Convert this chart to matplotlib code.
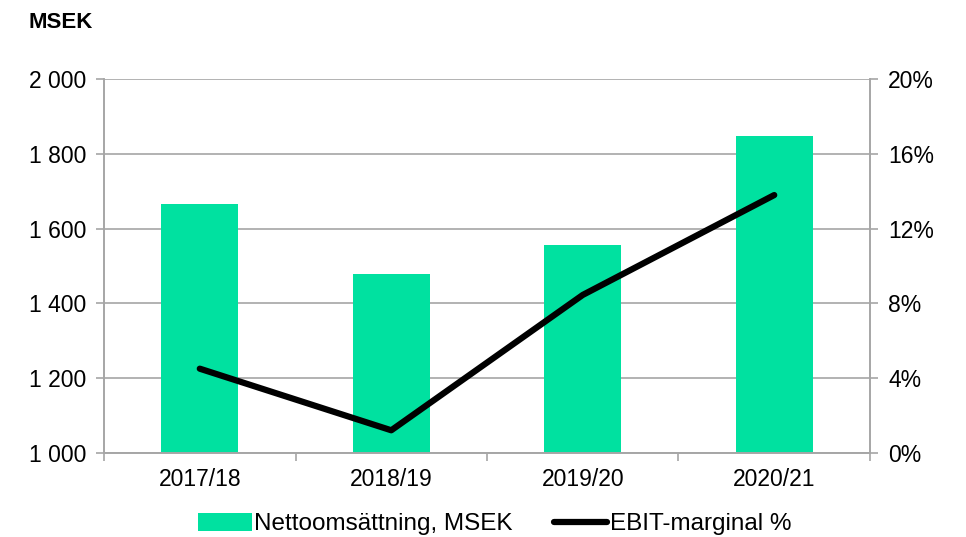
import matplotlib.pyplot as plt
import numpy as np
from matplotlib.ticker import FuncFormatter

plt.rcParams['font.family'] = ['Liberation Sans', 'DejaVu Sans']

years = ['2017/18', '2018/19', '2019/20', '2020/21']
net_sales = [1665, 1478, 1556, 1849]
ebit_margin = [4.5, 1.2, 8.45, 13.8]

bar_color = '#00E1A0'
grid_color = '#A6A6A6'

fig = plt.figure(figsize=(9.66, 5.37), dpi=100)
ax = fig.add_axes([0.1077, 0.157, 0.7929, 0.6953])
ax2 = ax.twinx()

x = np.arange(len(years))
ax.bar(x, net_sales, width=0.4, color=bar_color, zorder=2,
       label='Nettoomsättning, MSEK')
ax.set_ylim(1000, 2000)
ax.set_xlim(-0.5, len(years) - 0.5)
ax.set_yticks(range(1000, 2001, 200))
ax.yaxis.set_major_formatter(FuncFormatter(lambda v, p: f'{int(v):,}'.replace(',', ' ')))
ax.grid(axis='y', color=grid_color, linewidth=1.2, zorder=0)
ax.set_axisbelow(True)

ax.set_xticks(x)
ax.set_xticklabels(years)
ax.set_xticks(np.arange(-0.5, len(years)), minor=True)
ax.tick_params(axis='x', which='major', length=0, labelsize=16.5, pad=11)
ax.tick_params(axis='x', which='minor', length=6, color=grid_color, width=1.2)
ax.tick_params(axis='y', length=6, color=grid_color, width=1.2, labelsize=16.5, pad=7)

ax2.plot(x, ebit_margin, color='black', linewidth=4.5, solid_capstyle='round',
         solid_joinstyle='round', zorder=3, label='EBIT-marginal %')
ax2.set_ylim(0, 20)
ax2.set_yticks(range(0, 21, 4))
ax2.yaxis.set_major_formatter(FuncFormatter(lambda v, p: f'{int(v)}%'))
ax2.tick_params(axis='y', length=6, color=grid_color, width=1.2, labelsize=16.5, pad=7)

for a in (ax, ax2):
    for s in a.spines.values():
        s.set_color(grid_color)
        s.set_linewidth(1.2)
ax.spines['top'].set_visible(False)
ax2.spines['top'].set_visible(False)

fig.text(0.029, 0.958, 'MSEK', fontsize=16, fontweight='bold', va='center')

h1, l1 = ax.get_legend_handles_labels()
h2, l2 = ax2.get_legend_handles_labels()
fig.legend(h1 + h2, l1 + l2, loc='center', bbox_to_anchor=(0.512, 0.024), ncol=2,
           frameon=False, fontsize=17.5, handlelength=2.2, handleheight=0.75,
           handletextpad=0.1, columnspacing=1.7)

fig.savefig('out.png', dpi=100)
